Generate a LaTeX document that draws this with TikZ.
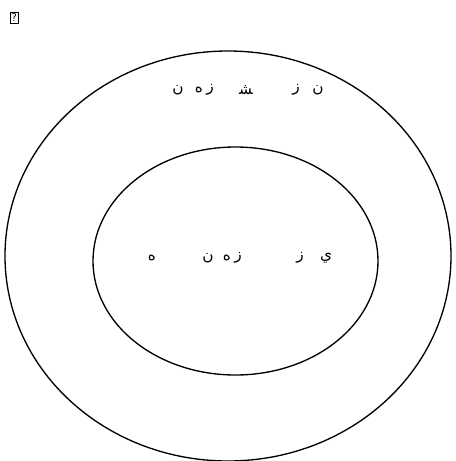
\documentclass[tikz,border=0pt]{standalone}
\usepackage{fontspec}
\newfontfamily\arabicfont[Script=Arabic]{DejaVu Sans}
\TeXXeTstate=1
\begin{document}
\begin{tikzpicture}[x=0.75pt,y=-0.75pt,
  ring/.style={draw=black,line width=1pt},
  glyph/.style={inner sep=0pt,font=\arabicfont\fontsize{11.5pt}{13pt}\selectfont},
  missing/.style={draw=black,line width=0.6pt,inner sep=1pt,font=\sffamily\fontsize{8.5pt}{9pt}\selectfont}]
\useasboundingbox (0,0) rectangle (456,461);
\node[missing] (mk) at (14,18) {?};
\draw[ring] (228,256) ellipse [x radius=223, y radius=205];
\draw[ring] (235.5,261) ellipse [x radius=142.5, y radius=114];
% outer text (visual left to right)
\node[glyph] (o1) at (178,90) {ﻥ};
\node[glyph] (o2a) at (199,90) {ﻩ};
\node[glyph] (o2b) at (210,90) {ﺯ};
\node[glyph] (o3) at (246,90) {ﺸ};
\node[glyph] (o4) at (296,90) {ﺯ};
\node[glyph] (o5) at (318,90) {ﻥ};
% inner text
\node[glyph] (i1) at (152,258) {ﻩ};
\node[glyph] (i2) at (208,258) {ﻥ};
\node[glyph] (i3a) at (227,258) {ﻩ};
\node[glyph] (i3b) at (238,258) {ﺯ};
\node[glyph] (i4) at (300,258) {ﺯ};
\node[glyph] (i5) at (326,258) {ﻱ};
\end{tikzpicture}
\end{document}
